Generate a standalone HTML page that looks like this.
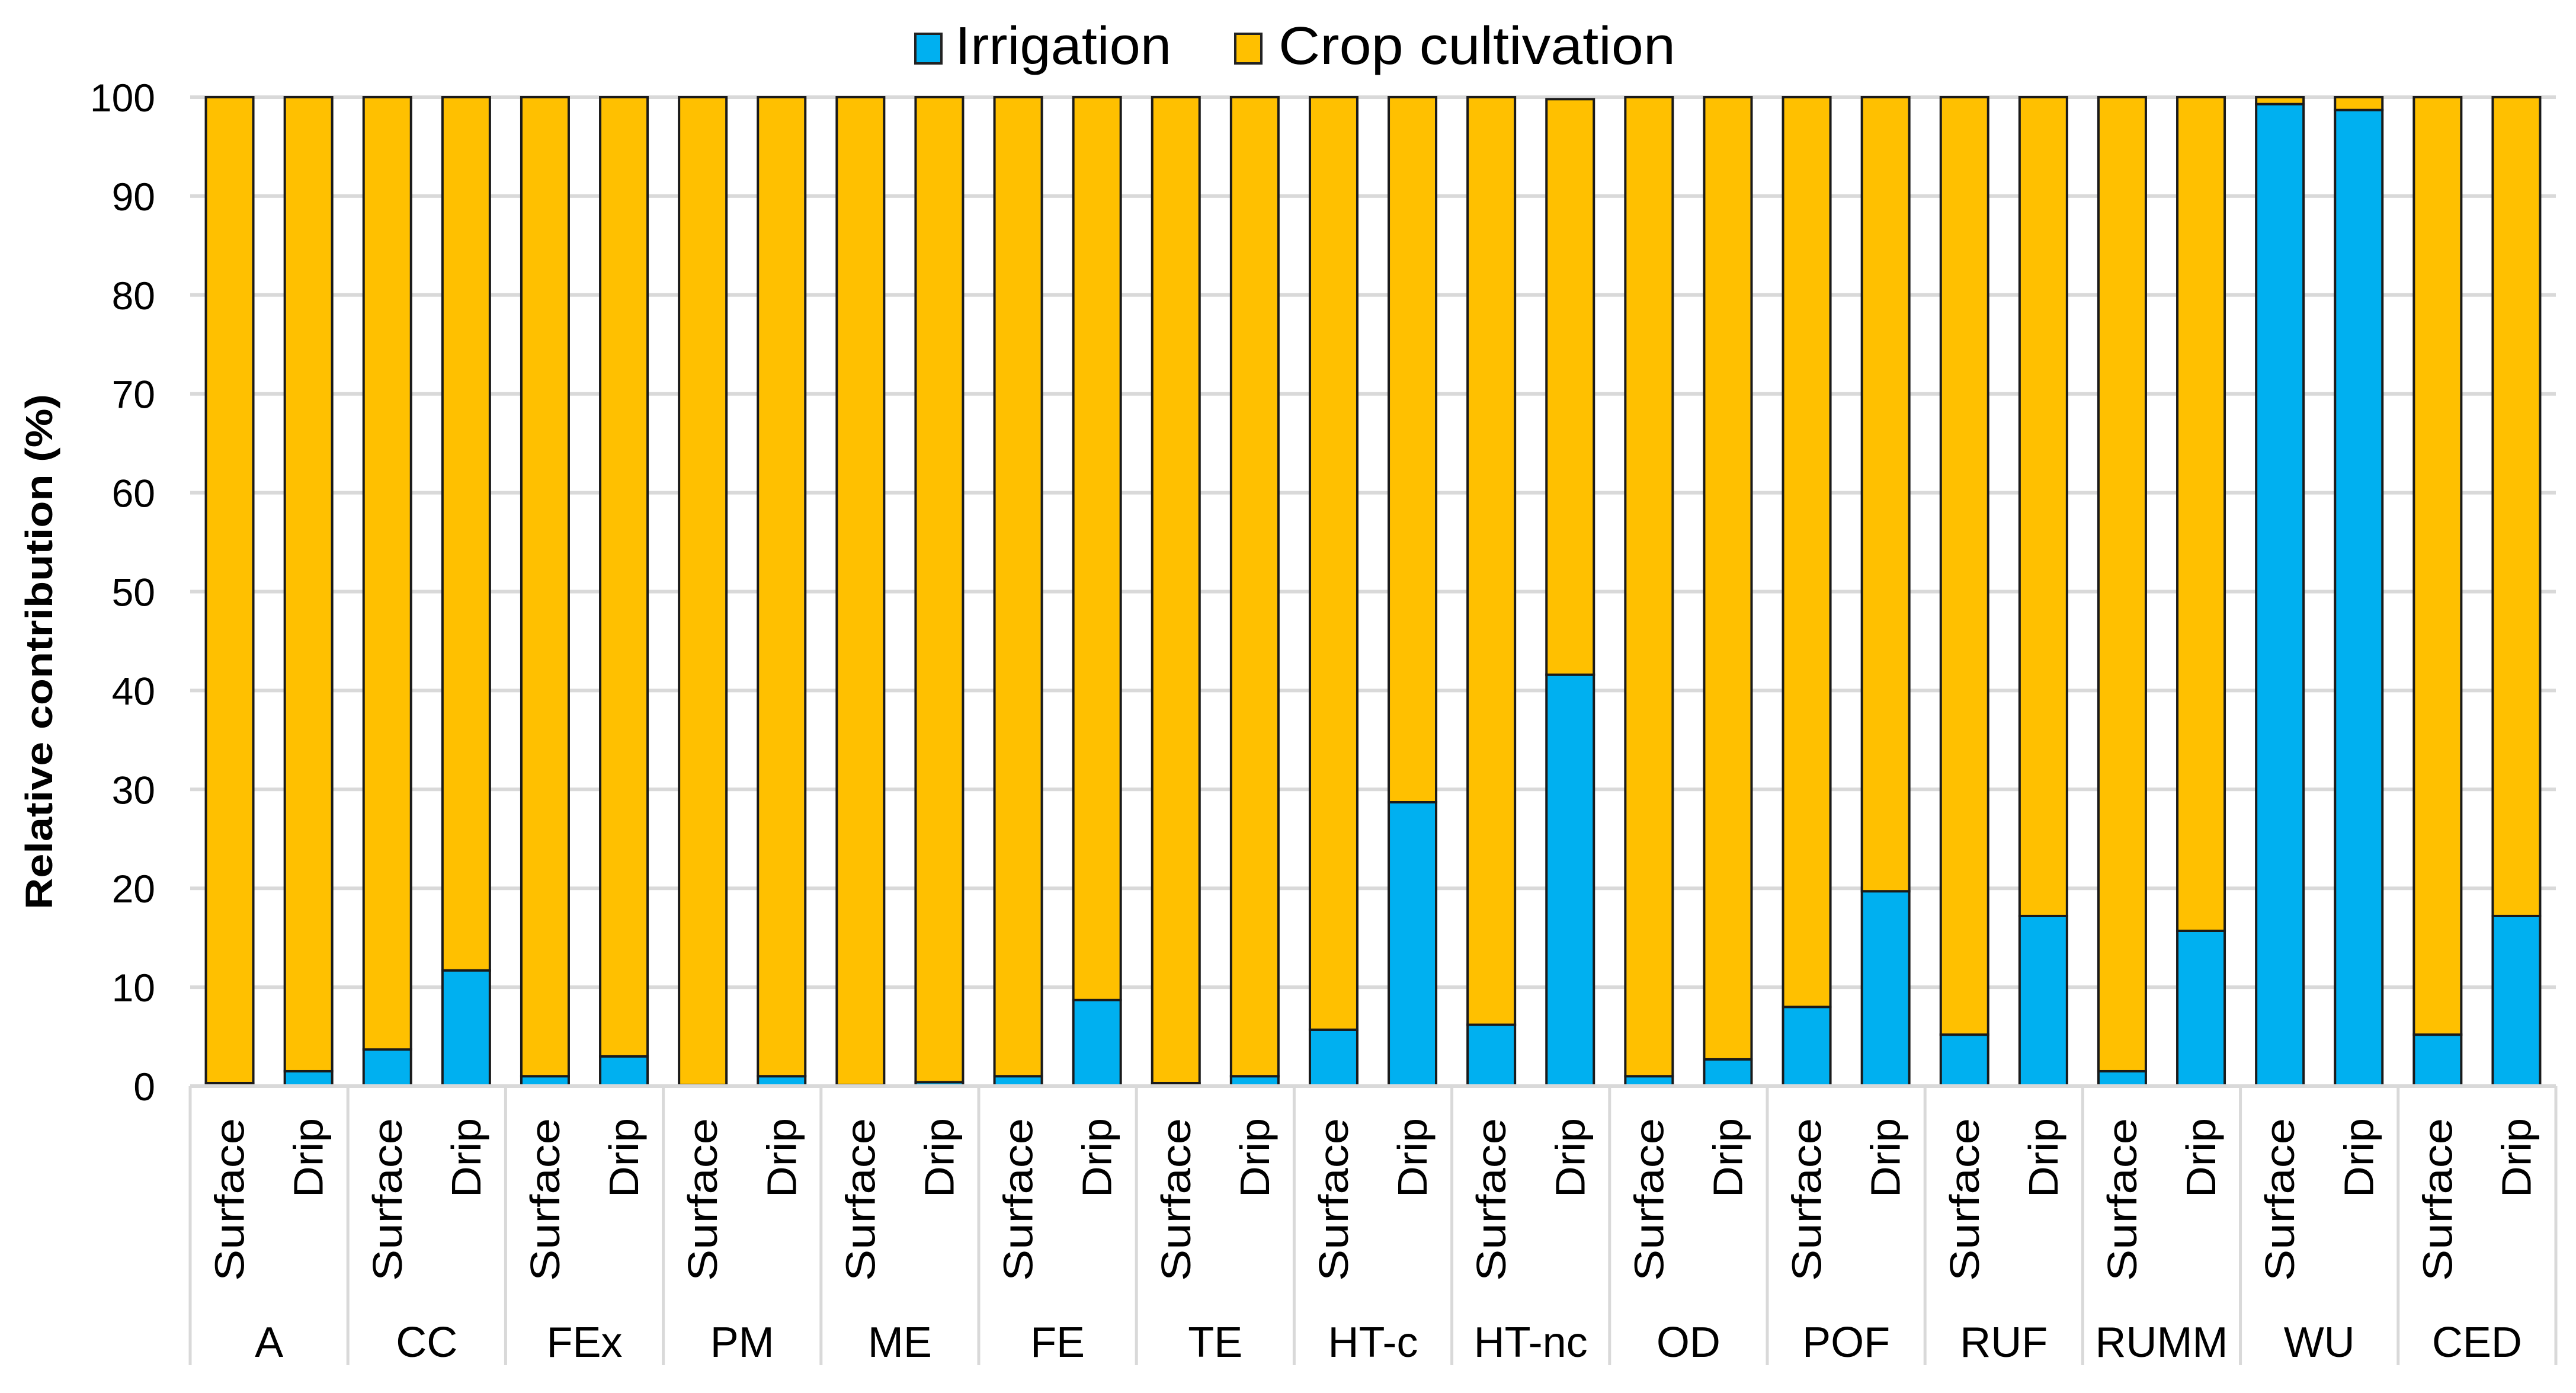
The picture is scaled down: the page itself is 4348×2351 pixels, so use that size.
<!DOCTYPE html>
<html><head><meta charset="utf-8"><style>
html,body{margin:0;padding:0;background:#fff;}
svg{display:block;font-family:"Liberation Sans",sans-serif;}
</style></head><body>
<svg id="chart" width="4348" height="2351" viewBox="0 0 4348 2351" xmlns="http://www.w3.org/2000/svg">
<rect width="4348" height="2351" fill="#fff"/>
<g id="grid"></g>
<g id="yticks"></g>
<g id="bars"></g>
<g id="xaxis"></g>
<text transform="translate(88,1100) rotate(-90)" text-anchor="middle" font-size="64" font-weight="bold" fill="#000" textLength="870" lengthAdjust="spacingAndGlyphs">Relative contribution (%)</text>
<g>
  <rect x="1545" y="57" width="44" height="50" fill="#00b0f0" stroke="#222" stroke-width="4"/>
  <text x="1612" y="108" font-size="90" textLength="365" lengthAdjust="spacingAndGlyphs">Irrigation</text>
  <rect x="2085" y="57" width="44" height="50" fill="#ffc000" stroke="#222" stroke-width="4"/>
  <text x="2158" y="108" font-size="90" textLength="670" lengthAdjust="spacingAndGlyphs">Crop cultivation</text>
</g>
</svg>
<script>
const categories = ["A","CC","FEx","PM","ME","FE","TE","HT-c","HT-nc","OD","POF","RUF","RUMM","WU","CED"];
const methods = ["Surface","Drip"];
const irrigation = [0.3,1.5, 3.7,11.7, 1.0,3.0, 0.1,1.0, 0.1,0.4, 1.0,8.7, 0.3,1.0, 5.7,28.7, 6.2,41.6, 1.0,2.7, 8.0,19.7, 5.2,17.2, 1.5,15.7, 99.3,98.7, 5.2,17.2];
const crop = [99.7,98.5, 96.3,88.3, 99.0,97.0, 99.9,99.0, 99.9,99.6, 99.0,91.3, 99.7,99.0, 94.3,71.3, 93.8,58.2, 99.0,97.3, 92.0,80.3, 94.8,82.8, 98.5,84.3, 0.7,1.3, 94.8,82.8];
const yTicks = [0,10,20,30,40,50,60,70,80,90,100];

const NS="http://www.w3.org/2000/svg";
const X0=321, X1=4314, Y0=1833, Y100=164;
const nSlots=categories.length*methods.length;
const slotW=(X1-X0)/nSlots, barW=80;
function yScale(v){return Y0-(Y0-Y100)*v/100;}
function xSlot(i){return X0+slotW*i+slotW/2;}
function mk(tag,attrs,parent){const e=document.createElementNS(NS,tag);for(const k in attrs)e.setAttribute(k,attrs[k]);parent.appendChild(e);return e;}

const grid=document.getElementById('grid'), yt=document.getElementById('yticks');
yTicks.forEach(t=>{
  const y=yScale(t);
  const l=mk('line',{x1:X0,x2:X1,y1:y,y2:y,stroke:'#d9d9d9','stroke-width':6},grid);
  
  
  const tx=mk('text',{x:262,y:y+24,'text-anchor':'end','font-size':66,fill:'#000'},yt);
  tx.textContent=t;
  
  
});

const bars=document.getElementById('bars');
for(let i=0;i<nSlots;i++){
  const cx=xSlot(i), x=cx-barW/2;
  const yi=yScale(irrigation[i]), yc=yScale(irrigation[i]+crop[i]);
  const r1=mk('rect',{x:x,y:yi,width:barW,height:Y0-yi,fill:'#00b0f0',stroke:'#1a1a1a','stroke-width':4},bars);
  
  
  const r2=mk('rect',{x:x,y:yc,width:barW,height:yi-yc,fill:'#ffc000',stroke:'#1a1a1a','stroke-width':4},bars);
  
  
}

const xa=document.getElementById('xaxis');
const base=mk('line',{x1:X0,x2:X1,y1:Y0,y2:Y0,stroke:'#d9d9d9','stroke-width':6},xa);


for(let c=0;c<=categories.length;c++){
  const x=X0+slotW*2*c;
  const s=mk('line',{x1:x,x2:x,y1:Y0,y2:2304,stroke:'#d9d9d9','stroke-width':5},xa);
  
  
}
for(let i=0;i<nSlots;i++){
  const cx=xSlot(i)+24;
  const isS=(i%2===0);
  const t=mk('text',{transform:`translate(${cx},1887) rotate(-90)`,'text-anchor':'end','font-size':70,fill:'#000',textLength:isS?275:134,lengthAdjust:'spacingAndGlyphs'},xa);
  t.textContent=methods[i%2];
  
  
}
categories.forEach((c,k)=>{
  const t=mk('text',{x:X0+slotW*(2*k+1),y:2290,'text-anchor':'middle','font-size':72,fill:'#000'},xa);
  t.textContent=c;
  
  
});
</script>
</body></html>
